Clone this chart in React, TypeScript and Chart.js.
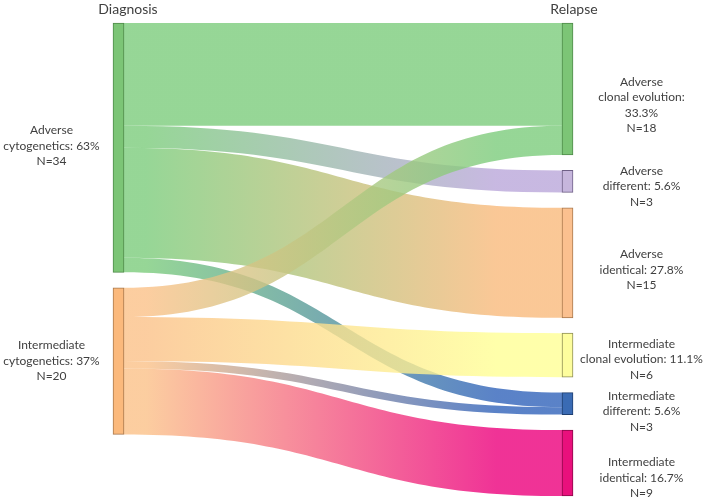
import { useEffect, useRef } from 'react';
import { Chart, registerables } from 'chart.js';

Chart.register(...registerables);

// ---- data ----
const columnTitles = ['Diagnosis', 'Relapse'];
const sourceLabels = [
  ['Adverse', 'cytogenetics: 63%', 'N=34'],
  ['Intermediate', 'cytogenetics: 37%', 'N=20'],
];
const targetLabels = [
  ['Adverse', 'clonal evolution:', '33.3%', 'N=18'],
  ['Adverse', 'different: 5.6%', 'N=3'],
  ['Adverse', 'identical: 27.8%', 'N=15'],
  ['Intermediate', 'clonal evolution: 11.1%', 'N=6'],
  ['Intermediate', 'different: 5.6%', 'N=3'],
  ['Intermediate', 'identical: 16.7%', 'N=9'],
];
const flowFrom = [0, 0, 0, 0, 1, 1, 1, 1];
const flowTo = [0, 1, 2, 4, 0, 3, 4, 5];
const flowValues = [14, 3, 15, 2, 4, 6, 1, 9];
const nodeGap = 2.1;

// ---- styles ----
const sourceColors = ['#7cc576', '#fbb97c'];
const sourceBorders = ['#4f8a4a', '#a8784c'];
const targetColors = ['#7cc576', '#c6b6dc', '#fbc08f', '#fdfd9d', '#3a6bb4', '#e9107c'];
const targetBorders = ['#4f8a4a', '#6e5f86', '#a8784c', '#8d8d55', '#1f3f70', '#8a0848'];
const flowSourceColors = ['#7ccc7c', '#fbc188'];
const flowTargetColors = ['#7ccc7c', '#baa7da', '#f9ba7c', '#ffff95', '#3163ba', '#ec007c'];
const sourceLabelOffsets = [-2, 0];
const targetLabelOffsets = [16, 5, 7, 4, 8, 15];
const flowAlpha = 0.8;
const textColor = '#3f3f3f';
const fontFamily = 'Lato, "Open Sans", sans-serif';

function nodeRanges(totals: number[]) {
  const out: [number, number][] = [];
  let y = 0;
  totals.forEach((t) => {
    out.push([y, y + t]);
    y += t + nodeGap;
  });
  return out;
}

const sourceTotals = sourceLabels.map((_, i) =>
  flowValues.reduce((s, v, k) => (flowFrom[k] === i ? s + v : s), 0)
);
const targetTotals = targetLabels.map((_, i) =>
  flowValues.reduce((s, v, k) => (flowTo[k] === i ? s + v : s), 0)
);
const sourceRanges = nodeRanges(sourceTotals);
const targetRanges = nodeRanges(targetTotals);
const yMax = targetRanges[targetRanges.length - 1][1];

const flowPlugin = {
  id: 'sankeyFlows',
  beforeDatasetsDraw(chart: any) {
    const { ctx, scales } = chart;
    const xs = scales.x;
    const ys = scales.y;
    const half = 5.5;
    const x0 = xs.getPixelForValue(0) + half;
    const x1 = xs.getPixelForValue(1) - half;
    const srcCursor = sourceRanges.map((r) => r[0]);
    const tgtCursor = targetRanges.map((r) => r[0]);
    const order = flowValues.map((_, i) => i);
    const srcStart: number[] = [];
    const tgtStart: number[] = [];
    [...order]
      .sort((a, b) => flowFrom[a] - flowFrom[b] || flowTo[a] - flowTo[b])
      .forEach((i) => {
        srcStart[i] = srcCursor[flowFrom[i]];
        srcCursor[flowFrom[i]] += flowValues[i];
      });
    [...order]
      .sort((a, b) => flowTo[a] - flowTo[b] || flowFrom[a] - flowFrom[b])
      .forEach((i) => {
        tgtStart[i] = tgtCursor[flowTo[i]];
        tgtCursor[flowTo[i]] += flowValues[i];
      });
    ctx.save();
    ctx.globalAlpha = flowAlpha;
    order.forEach((i) => {
      const v = flowValues[i];
      const y0a = ys.getPixelForValue(srcStart[i]);
      const y0b = ys.getPixelForValue(srcStart[i] + v);
      const y1a = ys.getPixelForValue(tgtStart[i]);
      const y1b = ys.getPixelForValue(tgtStart[i] + v);
      const xm = (x0 + x1) / 2;
      ctx.beginPath();
      ctx.moveTo(x0, y0a);
      ctx.bezierCurveTo(xm, y0a, xm, y1a, x1, y1a);
      ctx.lineTo(x1, y1b);
      ctx.bezierCurveTo(xm, y1b, xm, y0b, x0, y0b);
      ctx.closePath();
      const g = ctx.createLinearGradient(x0, 0, x1, 0);
      g.addColorStop(0, flowSourceColors[flowFrom[i]]);
      g.addColorStop(0.05, flowSourceColors[flowFrom[i]]);
      g.addColorStop(0.85, flowTargetColors[flowTo[i]]);
      g.addColorStop(1, flowTargetColors[flowTo[i]]);
      ctx.fillStyle = g;
      ctx.fill();
    });
    ctx.restore();
  },
  afterDraw(chart: any) {
    const { ctx, scales } = chart;
    const xs = scales.x;
    const ys = scales.y;
    ctx.save();
    ctx.fillStyle = textColor;
    ctx.textAlign = 'center';
    ctx.textBaseline = 'middle';
    ctx.font = `14px ${fontFamily}`;
    ctx.fillText(columnTitles[0], 128, 9);
    ctx.fillText(columnTitles[1], 574, 9);
    ctx.font = `12px ${fontFamily}`;
    const lh = 15.5;
    const drawBlock = (lines: string[], cx: number, cy: number) => {
      const top = cy - ((lines.length - 1) * lh) / 2;
      lines.forEach((t, k) => ctx.fillText(t, cx, top + k * lh));
    };
    sourceLabels.forEach((lines, i) => {
      const cy = (ys.getPixelForValue(sourceRanges[i][0]) + ys.getPixelForValue(sourceRanges[i][1])) / 2;
      drawBlock(lines, xs.getPixelForValue(0) - 67, cy + sourceLabelOffsets[i]);
    });
    targetLabels.forEach((lines, i) => {
      const cy = (ys.getPixelForValue(targetRanges[i][0]) + ys.getPixelForValue(targetRanges[i][1])) / 2;
      drawBlock(lines, xs.getPixelForValue(1) + 74, cy + targetLabelOffsets[i]);
    });
    ctx.restore();
  },
};

export default function App() {
  const ref = useRef<HTMLCanvasElement>(null);
  useEffect(() => {
    if (!ref.current) return;
    const nodeData = [
      ...sourceRanges.map((r) => ({ x: 0, y: r })),
      ...targetRanges.map((r) => ({ x: 1, y: r })),
    ];
    const chart = new Chart(ref.current, {
      type: 'bar',
      data: {
        datasets: [
          {
            data: nodeData as any,
            backgroundColor: [...sourceColors, ...targetColors],
            borderColor: [...sourceBorders, ...targetBorders],
            borderWidth: 1,
            borderSkipped: false,
            barThickness: 11,
            clip: false as any,
          },
        ],
      },
      options: {
        animation: false,
        responsive: false,
        events: [],
        layout: { padding: { left: 118.5, right: 141.5, top: 23, bottom: 6 } },
        plugins: { legend: { display: false }, tooltip: { enabled: false } },
        scales: {
          x: { type: 'linear', min: 0, max: 1, offset: false, display: false },
          y: { type: 'linear', min: 0, max: yMax, reverse: true, display: false },
        },
      },
      plugins: [flowPlugin],
    });
    return () => chart.destroy();
  }, []);
  return (
    <div style={{ position: 'absolute', left: 0, top: 0, width: 709, height: 502, background: '#fff' }}>
      <canvas ref={ref} width={709} height={502} />
    </div>
  );
}
